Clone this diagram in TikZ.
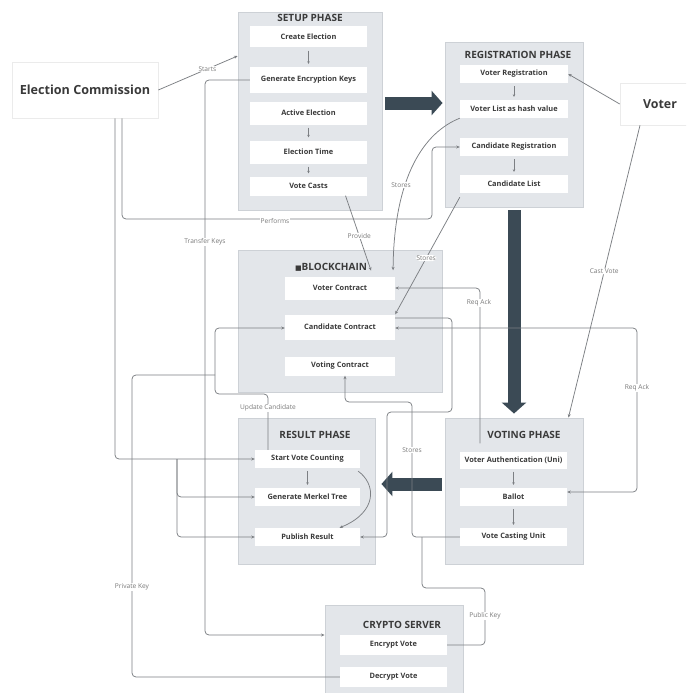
\documentclass[tikz,border=0pt]{standalone}
\usepackage{fontspec}
\setmainfont{Open Sans}
\newfontfamily\symfont{DejaVu Sans}
\usetikzlibrary{arrows.meta}
\definecolor{phasefill}{HTML}{E3E6EA}
\definecolor{phaseline}{HTML}{CDD1D6}
\definecolor{linegray}{HTML}{7C7F83}
\definecolor{bigarrowc}{HTML}{3B4A55}
\definecolor{itemtext}{HTML}{3A3A3A}
\definecolor{labeltext}{HTML}{7A7A7A}
\begin{document}
\begin{tikzpicture}[x=1pt,y=-1pt,
  phase/.style={draw=phaseline, fill=phasefill, line width=0.9pt, inner sep=0},
  item/.style={fill=white, inner sep=0, font=\fontsize{7.4}{8}\selectfont\bfseries, text=itemtext},
  ptitle/.style={inner sep=0, font=\fontsize{10}{11}\selectfont\bfseries, text=itemtext},
  actor/.style={draw=black!8, fill=white, inner sep=0, line width=0.6pt},
  conn/.style={draw=linegray, line width=0.75pt, rounded corners=4pt, -{Stealth[length=3.5pt,width=3pt]}},
  plain/.style={draw=linegray, line width=0.75pt, rounded corners=4pt},
  sarrow/.style={draw=linegray, line width=0.6pt, -{Stealth[length=2.5pt,width=2.5pt]}, shorten <=3pt, shorten >=3pt},
  bigarrow/.style={draw=bigarrowc, line width=13pt, -{Triangle[width=24pt,length=11pt]}},
  lbl/.style={fill=white, inner sep=0.6pt, font=\fontsize{6.6}{7}\selectfont, text=labeltext}
]
\clip (0,0) rectangle (686,693);
\fill[white] (0,0) rectangle (686,693);

% ---------- phase containers ----------
\node[phase, minimum width=144pt, minimum height=198pt] (setup) at (310,111) {};
\node[phase, minimum width=138pt, minimum height=165pt] (reg) at (514,124.5) {};
\node[phase, minimum width=204pt, minimum height=142pt] (chain) at (340,321) {};
\node[phase, minimum width=137pt, minimum height=146pt] (result) at (306.5,491) {};
\node[phase, minimum width=138pt, minimum height=146pt] (voting) at (514,491) {};
\node[phase, minimum width=138pt, minimum height=100pt] (crypto) at (394,655) {};

% ---------- actors ----------
\node[actor, minimum width=146pt, minimum height=56pt] (ec) at (85,90) {};
\node[inner sep=0, font=\fontsize{12.6}{14}\selectfont\bfseries, text=itemtext] (ect) at (85,90) {Election Commission};
\node[actor, minimum width=72pt, minimum height=42pt] (voter) at (656,104) {};
\node[inner sep=0, font=\fontsize{12.4}{14}\selectfont\bfseries, text=itemtext] (vt) at (660,104) {Voter};

% ---------- titles ----------
\node[ptitle] (tsetup) at (310,18) {SETUP PHASE};
\node[ptitle] (treg) at (518,55) {REGISTRATION PHASE};
\node[ptitle] (tchain) at (331,267) {{\symfont\fontsize{7}{8}\selectfont ■}BLOCKCHAIN};
\node[ptitle] (tresult) at (315,435) {RESULT PHASE};
\node[ptitle] (tvoting) at (524,435) {VOTING PHASE};
\node[ptitle] (tcrypto) at (402,625) {CRYPTO SERVER};

% ---------- setup items ----------
\node[item, minimum width=117pt, minimum height=21pt] (ce) at (308.5,37) {Create Election};
\node[item, minimum width=117pt, minimum height=26pt] (gek) at (308.5,80) {Generate Encryption Keys};
\node[item, minimum width=117pt, minimum height=23pt] (ae) at (308.5,113) {Active Election};
\node[item, minimum width=117pt, minimum height=23pt] (et) at (308.5,152) {Election Time};
\node[item, minimum width=117pt, minimum height=19pt] (vc) at (308.5,186) {Vote Casts};

% ---------- registration items ----------
\node[item, minimum width=108pt, minimum height=18pt] (vr) at (514,74) {Voter Registration};
\node[item, minimum width=108pt, minimum height=18pt] (vl) at (514,109) {Voter List as hash value};
\node[item, minimum width=108pt, minimum height=18pt] (cr) at (514,147) {Candidate Registration};
\node[item, minimum width=108pt, minimum height=18pt] (cl) at (514,184) {Candidate List};

% ---------- blockchain items ----------
\node[item, minimum width=110pt, minimum height=23pt] (vtc) at (340,288) {Voter Contract};
\node[item, minimum width=110pt, minimum height=25pt] (cc) at (340,327) {Candidate Contract};
\node[item, minimum width=110pt, minimum height=19pt] (vgc) at (340,366) {Voting Contract};

% ---------- result items ----------
\node[item, minimum width=105pt, minimum height=18pt] (svc) at (307.5,459) {Start Vote Counting};
\node[item, minimum width=105pt, minimum height=18pt] (gmt) at (307.5,497) {Generate Merkel Tree};
\node[item, minimum width=105pt, minimum height=18pt] (pr) at (307.5,537) {Publish Result};

% ---------- voting items ----------
\node[item, minimum width=107pt, minimum height=17pt] (va) at (513.5,460) {Voter Authentication (Uni)};
\node[item, minimum width=107pt, minimum height=18pt] (bal) at (513.5,497) {Ballot};
\node[item, minimum width=107pt, minimum height=18pt] (vcu) at (513.5,537) {Vote Casting Unit};

% ---------- crypto items ----------
\node[item, minimum width=107pt, minimum height=20pt] (ev) at (393.5,645) {Encrypt Vote};
\node[item, minimum width=107pt, minimum height=20pt] (dv) at (393.5,677) {Decrypt Vote};

% ---------- small inner arrows ----------
\draw[sarrow] (ce.south) -- (gek.north);
\draw[sarrow] (ae.south) -- (et.north);
\draw[sarrow] (et.south) -- (vc.north);
\draw[sarrow] (vr.south) -- (vl.north);
\draw[sarrow] (cr.south) -- (cl.north);
\draw[sarrow] (svc.south) -- (gmt.north);
\draw[sarrow] (va.south) -- (bal.north);
\draw[sarrow] (bal.south) -- (vcu.north);

% ---------- big phase arrows ----------
\draw[bigarrow, shorten <=3pt, shorten >=2pt] (setup.east |- 0,103) -- (reg.west |- 0,103);
\draw[bigarrow, shorten <=3pt, shorten >=4pt] (reg.south) -- (voting.north);
\draw[bigarrow, shorten <=3pt, shorten >=6pt] (voting.west |- 0,484) -- (result.east |- 0,484);

% ---------- connectors ----------
% Starts
\draw[conn] (ec.east) -- (setup.west |- 0,56) node[lbl, pos=0.62] {Starts};
% Transfer Keys
\draw[conn] (gek.west) -- (205,80) -- (205,635) -- (crypto.west |- 0,635);
\node[lbl] (ltk) at (205,242) {Transfer Keys};
% Performs
\draw[conn] (ec.south -| 122,0) -- (122,219) -- (432,219) -- (432,147) -- (cr.west);
\node[lbl] (lperf) at (275,221) {Performs};
% EC to result phase
\coordinate (br) at (177,459);
\draw[conn] (ec.south -| 115,0) |- (svc.west);
\draw[conn] (br) |- (gmt.west);
\draw[conn] (br) |- (pr.west);
% Update Candidate
\draw[conn] (svc.north -| 268,0) -- (268,394) -- (215,394) -- (215,328) -- (cc.west |- 0,328);
\node[lbl] (luc) at (268,408) {Update Candidate};
% Private Key
\coordinate (jpk) at (215,375);
\draw[plain] (dv.west) -- (132,677) -- (132,375) -- (jpk);
\node[lbl] (lpk) at (132,587) {Private Key};
% Stores (voter list)
\draw[conn, shorten >=6pt] (vl.south west) .. controls (425,132) and (394,175) .. ([xshift=53pt]vtc.north);
\node[lbl] (ls1) at (401,185) {Stores};
% Provide
\draw[conn, shorten >=6pt] ([xshift=37pt]vc.south) -- ([xshift=33pt]vtc.north) node[lbl, pos=0.5] {Provide};
% Stores (candidate list)
\draw[conn] ([yshift=-4pt]cl.south west) -- (cc.north east) node[lbl, pos=0.52] {Stores};
% Req Ack (voter auth -> voter contract)
\draw[conn] ([yshift=8pt]va.north -| 480,0) -- (480,288) -- (vtc.east);
\node[lbl] (lra1) at (479,303) {Req Ack};
% Req Ack (candidate contract <-> ballot)
\draw[conn, {Stealth[length=3.5pt,width=3pt]}-{Stealth[length=3.5pt,width=3pt]}] (cc.east |- 0,328) -- (637,328) -- (637,492) -- (bal.east |- 0,492);
\node[lbl] (lra2) at (637,388) {Req Ack};
% Candidate contract -> publish result
\draw[conn] (cc.east |- 0,318) -- (452,318) -- (452,412) -- (387,412) -- (387,537) -- (pr.east);
% Stores (vote casting -> voting contract)
\draw[conn] (vcu.west) -- (412,537) -- (412,402) -- (345,402) -- ([xshift=5pt]vgc.south);
\node[lbl] (ls3) at (412,450) {Stores};
% Public Key
\coordinate (jpub) at (422,537);
\draw[plain] (ev.east) -- (485,645) -- (485,588) -- (422,588) -- (jpub);
\node[lbl] (lpub) at (485,616) {Public Key};
% Voter -> voter registration
\draw[conn] (voter.west) -- (vr.east);
% Cast Vote
\draw[conn] ([xshift=-16pt]voter.south) -- ([xshift=-15pt]voting.north east) node[lbl, pos=0.5] {Cast Vote};
% Result internal curve
\draw[conn] ([xshift=-2pt,yshift=-3pt]svc.south east) .. controls (376,484) and (378,512) .. ([xshift=32pt]pr.north);
\end{tikzpicture}
\end{document}
